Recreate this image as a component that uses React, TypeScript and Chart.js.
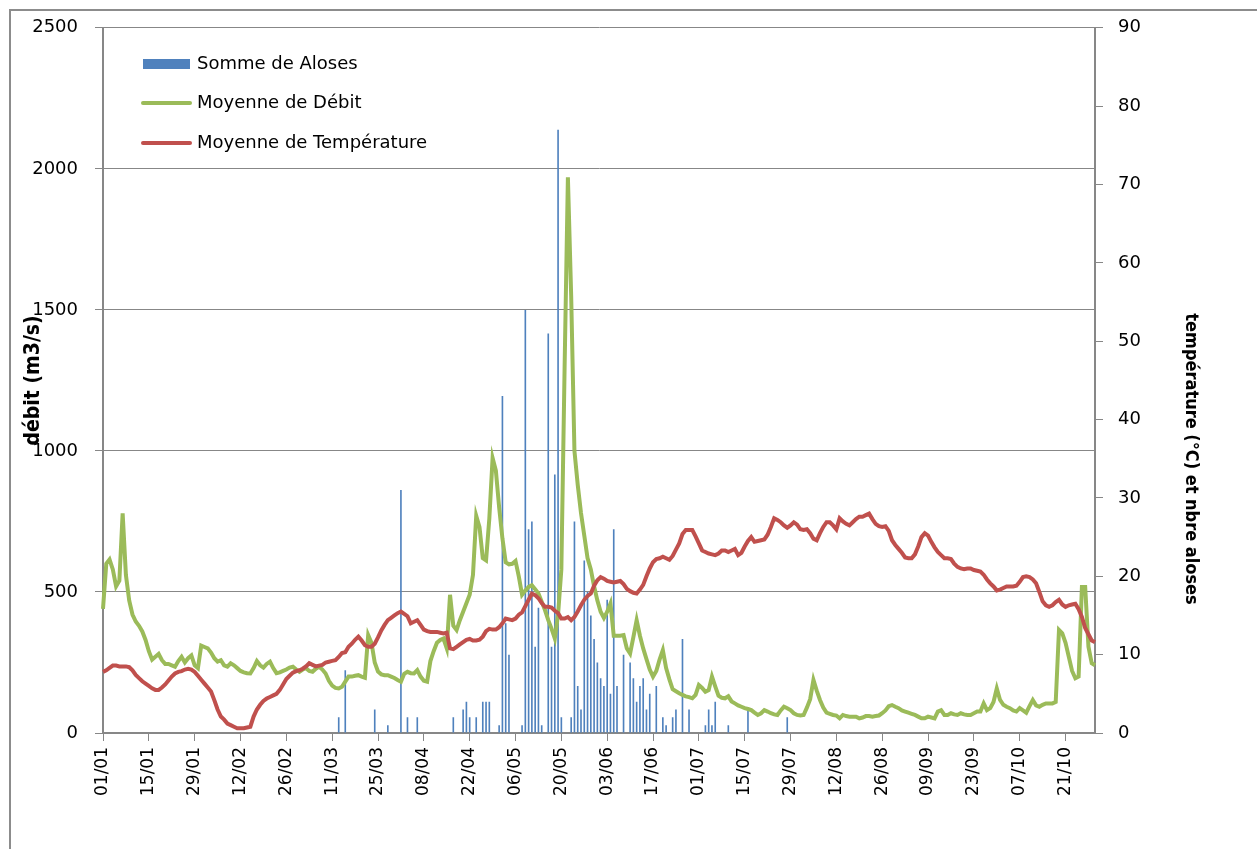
import React, { useEffect, useRef } from 'react';
import { Chart, registerables } from 'chart.js';

Chart.register(...registerables);

// ---------- DATA ----------
// leap year, 01/01 .. 30/10
const MONTH_LENGTHS = [31, 29, 31, 30, 31, 30, 31, 31, 30, 30];
const DATES: string[] = [];
MONTH_LENGTHS.forEach((len, m) => {
  for (let d = 1; d <= len; d++) {
    DATES.push(`${String(d).padStart(2, '0')}/${String(m + 1).padStart(2, '0')}`);
  }
});

const DEBIT = [
  440, 600, 615, 580, 520, 540, 779, 560, 470, 420,
  395, 380, 360, 330, 290, 260, 270, 280, 258, 245,
  245, 240, 235, 255, 270, 250, 265, 275, 240, 230,
  310, 305, 300, 285, 265, 253, 258, 240, 235, 247,
  240, 230, 220, 215, 212, 211, 230, 255, 240, 232,
  245, 253, 230, 212, 215, 220, 225, 232, 235, 225,
  217, 225, 230, 220, 217, 228, 235, 225, 211, 185,
  168, 160, 158, 164, 182, 200, 200, 203, 205, 200,
  196, 347, 320, 250, 218, 208, 205, 205, 200, 195,
  188, 182, 210, 217, 212, 211, 223, 200, 185, 182,
  255, 290, 320, 330, 335, 300, 490, 380, 365, 400,
  430, 460, 490, 560, 770, 730, 620, 612, 760, 975,
  930, 800, 690, 605, 598, 600, 610, 555, 490, 505,
  518, 524, 510, 495, 465, 436, 400, 370, 335, 420,
  580, 1300, 1970, 1550, 1000, 880, 780, 700, 620, 580,
  520, 470, 430, 408, 430, 459, 345, 345, 345, 347,
  300, 282, 340, 400, 345, 300, 262, 225, 200, 220,
  260, 294, 230, 190, 155, 148, 141, 135, 130, 127,
  123, 135, 170, 160, 146, 152, 200, 165, 132, 125,
  123, 130, 112, 105, 98, 93, 88, 85, 81, 72,
  64, 70, 81, 76, 70, 66, 64, 80, 93, 88,
  81, 70, 64, 62, 64, 90, 120, 188, 150, 117,
  90, 72, 68, 64, 62, 52, 64, 60, 58, 58,
  58, 52, 55, 60, 60, 58, 60, 62, 70, 80,
  95, 99, 93, 88, 80, 76, 72, 68, 64, 58,
  52, 52, 58, 55, 52, 76, 81, 64, 64, 70,
  66, 64, 70, 66, 64, 64, 70, 76, 76, 105,
  81, 88, 110, 158, 117, 100, 93, 88, 80, 76,
  88, 80, 72, 95, 117, 98, 93, 100, 105, 105,
  105, 110, 365, 353, 320, 270, 220, 194, 200, 518,
  518, 306, 247, 240,
];

const TEMPERATURE = [
  7.8, 8.0, 8.3, 8.6, 8.6, 8.5, 8.5, 8.5, 8.4, 8.0,
  7.4, 7.0, 6.6, 6.3, 6.0, 5.7, 5.5, 5.5, 5.8, 6.2,
  6.7, 7.2, 7.6, 7.8, 7.9, 8.1, 8.2, 8.1, 7.8, 7.3,
  6.8, 6.3, 5.8, 5.3, 4.2, 3.0, 2.1, 1.7, 1.2, 1.0,
  0.8, 0.6, 0.6, 0.6, 0.7, 0.8, 2.1, 3.0, 3.6, 4.1,
  4.4, 4.6, 4.8, 5.0, 5.5, 6.2, 6.9, 7.3, 7.7, 7.9,
  8.0, 8.2, 8.5, 8.9, 8.7, 8.5, 8.6, 8.7, 9.0, 9.1,
  9.2, 9.3, 9.7, 10.2, 10.3, 11.0, 11.4, 11.9, 12.3, 11.8,
  11.2, 11.0, 11.0, 11.4, 12.2, 13.1, 13.8, 14.4, 14.7, 15.0,
  15.3, 15.5, 15.2, 14.9, 14.0, 14.2, 14.4, 13.8, 13.2, 13.0,
  12.9, 12.9, 12.9, 12.8, 12.7, 12.8, 10.8, 10.7, 11.0, 11.3,
  11.6, 11.9, 12.0, 11.8, 11.8, 11.9, 12.3, 13.0, 13.3, 13.2,
  13.2, 13.5, 14.0, 14.6, 14.5, 14.4, 14.6, 15.1, 15.4, 16.2,
  17.0, 17.8, 17.6, 17.2, 16.6, 16.1, 16.1, 16.0, 15.6, 15.3,
  14.6, 14.6, 14.8, 14.4, 14.8, 15.5, 16.3, 17.0, 17.5, 17.8,
  18.8, 19.5, 19.9, 19.7, 19.4, 19.3, 19.2, 19.3, 19.4, 19.0,
  18.4, 18.1, 17.9, 17.8, 18.3, 18.9, 20.0, 21.0, 21.8, 22.2,
  22.3, 22.5, 22.3, 22.1, 22.6, 23.4, 24.2, 25.4, 25.9, 25.9,
  25.9, 25.1, 24.2, 23.3, 23.1, 22.9, 22.8, 22.7, 22.9, 23.3,
  23.3, 23.1, 23.3, 23.5, 22.7, 23.0, 23.8, 24.5, 25.0, 24.4,
  24.5, 24.6, 24.7, 25.3, 26.3, 27.4, 27.2, 26.9, 26.5, 26.2,
  26.5, 26.9, 26.6, 26.0, 25.9, 26.0, 25.5, 24.8, 24.6, 25.5,
  26.3, 26.9, 26.9, 26.5, 26.0, 27.4, 27.0, 26.7, 26.5, 26.9,
  27.3, 27.6, 27.6, 27.8, 28.0, 27.3, 26.7, 26.4, 26.3, 26.4,
  25.8, 24.6, 24.0, 23.5, 23.0, 22.4, 22.3, 22.3, 22.8, 23.8,
  25.0, 25.5, 25.2, 24.4, 23.7, 23.1, 22.7, 22.3, 22.3, 22.2,
  21.6, 21.2, 21.0, 20.9, 21.0, 21.0, 20.8, 20.7, 20.6, 20.2,
  19.6, 19.1, 18.7, 18.2, 18.3, 18.5, 18.7, 18.7, 18.7, 18.8,
  19.3, 19.9, 20.0, 19.9, 19.6, 19.1, 18.0, 16.8, 16.3, 16.1,
  16.3, 16.7, 17.0, 16.4, 16.1, 16.3, 16.4, 16.5, 15.8, 14.8,
  13.4, 12.6, 11.8, 11.6,
];

const ALOSES_DATES = [
  '13/03', '15/03', '24/03', '28/03', '01/04', '03/04', '06/04', '17/04', '20/04', '21/04',
  '22/04', '24/04', '26/04', '27/04', '28/04', '01/05', '02/05', '03/05', '04/05', '08/05',
  '09/05', '10/05', '11/05', '12/05', '13/05', '14/05', '16/05', '17/05', '18/05', '19/05',
  '20/05', '23/05', '24/05', '25/05', '26/05', '27/05', '28/05', '29/05', '30/05', '31/05',
  '01/06', '02/06', '03/06', '04/06', '05/06', '06/06', '08/06', '10/06', '11/06', '12/06',
  '13/06', '14/06', '15/06', '16/06', '18/06', '20/06', '21/06', '23/06', '24/06', '26/06',
  '28/06', '03/07', '04/07', '05/07', '06/07', '10/07', '16/07', '28/07',
];
const ALOSES_COUNTS = [
  2, 8, 3, 1, 31, 2, 2, 2, 3, 4,
  2, 2, 4, 4, 4, 1, 43, 14, 10, 1,
  54, 26, 27, 11, 16, 1, 51, 11, 33, 77,
  2, 2, 27, 6, 3, 22, 18, 15, 12, 9,
  7, 6, 17, 5, 26, 6, 10, 9, 7, 4,
  6, 7, 3, 5, 6, 2, 1, 2, 3, 12,
  3, 1, 3, 1, 4, 1, 3, 2,
];

const LEFT_TICKS = [0, 500, 1000, 1500, 2000, 2500];
const RIGHT_TICKS = [0, 10, 20, 30, 40, 50, 60, 70, 80, 90];
const LABEL_EVERY = 14;

const SERIES_NAMES = ['Somme de Aloses', 'Moyenne de Débit', 'Moyenne de Température'];
const LEFT_TITLE = 'débit (m3/s)';
const RIGHT_TITLE = 'température (°C) et nbre aloses';
const COLORS = { aloses: '#4F81BD', debit: '#9BBB59', temp: '#C0504D', axis: '#878787' };

const ALOSES: (number | null)[] = DATES.map((d) => {
  const i = ALOSES_DATES.indexOf(d);
  return i >= 0 ? ALOSES_COUNTS[i] : null;
});

// ---------- LAYOUT ----------
const W = 1257;
const H = 849;
const PLOT = { left: 103, right: 1095, top: 27, bottom: 733 };
const TICK_FAMILY = '"DejaVu Sans", Verdana, sans-serif';
const TITLE_FAMILY = '"DejaVu Sans Condensed", "Liberation Sans Narrow", sans-serif';

const overlays = {
  id: 'overlays',
  afterDatasetsDraw(chart: any) {
    const ctx = chart.ctx as CanvasRenderingContext2D;
    const ds = chart.data.datasets;
    const rows = [64, 103, 143];
    ctx.save();
    ctx.font = `18px ${TICK_FAMILY}`;
    ctx.textBaseline = 'middle';
    ctx.textAlign = 'left';
    rows.forEach((y, i) => {
      const d = ds[i];
      if (i === 0) {
        ctx.fillStyle = d.backgroundColor;
        ctx.fillRect(143, y - 5, 47, 10);
      } else {
        ctx.strokeStyle = d.borderColor;
        ctx.lineWidth = 4;
        ctx.lineCap = 'round';
        ctx.beginPath();
        ctx.moveTo(143, y);
        ctx.lineTo(190, y);
        ctx.stroke();
      }
      ctx.fillStyle = '#000';
      ctx.fillText(d.label, 197, y);
    });
    ctx.restore();
  },
  afterDraw(chart: any) {
    const ctx = chart.ctx as CanvasRenderingContext2D;
    ctx.save();
    ctx.translate(1191, 459);
    ctx.rotate(Math.PI / 2);
    ctx.font = `bold 18px ${TITLE_FAMILY}`;
    ctx.fillStyle = '#000';
    ctx.textAlign = 'center';
    ctx.textBaseline = 'middle';
    ctx.fillText(RIGHT_TITLE, 0, 0);
    ctx.restore();
  },
};

export default function App() {
  const ref = useRef<HTMLCanvasElement | null>(null);

  useEffect(() => {
    if (!ref.current) return;
    const chart = new Chart(ref.current, {
      type: 'line',
      data: {
        labels: DATES,
        datasets: [
          {
            type: 'bar',
            label: SERIES_NAMES[0],
            data: ALOSES,
            yAxisID: 'y1',
            backgroundColor: COLORS.aloses,
            borderWidth: 0,
            barPercentage: 0.5,
            categoryPercentage: 1,
            order: 3,
          } as any,
          {
            type: 'line',
            label: SERIES_NAMES[1],
            data: DEBIT,
            yAxisID: 'y',
            borderColor: COLORS.debit,
            backgroundColor: COLORS.debit,
            borderWidth: 4,
            pointRadius: 0,
            tension: 0,
            order: 2,
          },
          {
            type: 'line',
            label: SERIES_NAMES[2],
            data: TEMPERATURE,
            yAxisID: 'y1',
            borderColor: COLORS.temp,
            backgroundColor: COLORS.temp,
            borderWidth: 4,
            pointRadius: 0,
            tension: 0,
            order: 1,
          },
        ],
      },
      options: {
        animation: false,
        responsive: false,
        devicePixelRatio: 1,
        layout: { padding: { top: PLOT.top, left: 0, right: 0, bottom: 0 } },
        plugins: { legend: { display: false }, tooltip: { enabled: false } },
        scales: {
          x: {
            type: 'category',
            offset: false,
            grid: { display: true, drawOnChartArea: false, drawTicks: true, tickLength: 8, color: COLORS.axis, offset: false },
            border: { display: true, color: COLORS.axis, width: 2 },
            ticks: { autoSkip: false, minRotation: 90, maxRotation: 90, padding: 6, color: '#000', font: { family: TICK_FAMILY, size: 17 } },
            afterBuildTicks: (scale: any) => {
              scale.ticks = scale.ticks.filter((t: any) => t.value % LABEL_EVERY === 0);
            },
            afterFit: (scale: any) => {
              scale.height = H - PLOT.bottom;
            },
          },
          y: {
            position: 'left',
            min: LEFT_TICKS[0],
            max: LEFT_TICKS[LEFT_TICKS.length - 1],
            ticks: {
              stepSize: LEFT_TICKS[1] - LEFT_TICKS[0],
              padding: 17,
              color: '#000',
              font: { family: TICK_FAMILY, size: 18 },
              callback: (v: any) => String(v),
            },
            grid: { color: COLORS.axis, tickLength: 8, lineWidth: 1 },
            border: { display: true, color: COLORS.axis, width: 2 },
            title: { display: true, text: LEFT_TITLE, color: '#000', font: { family: TITLE_FAMILY, size: 21, weight: 'bold' }, padding: { top: 21, bottom: 0 } },
            afterFit: (scale: any) => {
              scale.width = PLOT.left;
            },
          },
          y1: {
            position: 'right',
            min: RIGHT_TICKS[0],
            max: RIGHT_TICKS[RIGHT_TICKS.length - 1],
            ticks: {
              stepSize: RIGHT_TICKS[1] - RIGHT_TICKS[0],
              padding: 15,
              color: '#000',
              font: { family: TICK_FAMILY, size: 18 },
              callback: (v: any) => String(v),
            },
            grid: { drawOnChartArea: false, color: COLORS.axis, tickLength: 8 },
            border: { display: true, color: COLORS.axis, width: 2 },
            afterFit: (scale: any) => {
              scale.width = W - PLOT.right;
            },
          },
        },
      },
      plugins: [overlays],
    });
    return () => chart.destroy();
  }, []);

  return (
    <div style={{ position: 'fixed', left: 0, top: 0, width: W, height: H, overflow: 'hidden', background: '#fff' }}>
      <div
        style={{
          position: 'absolute',
          left: 9,
          top: 9,
          width: W + 100,
          height: H + 100,
          border: '2px solid #8c8c8c',
        }}
      />
      <canvas ref={ref} width={W} height={H} style={{ position: 'absolute', left: 0, top: 0, width: W, height: H }} />
    </div>
  );
}
